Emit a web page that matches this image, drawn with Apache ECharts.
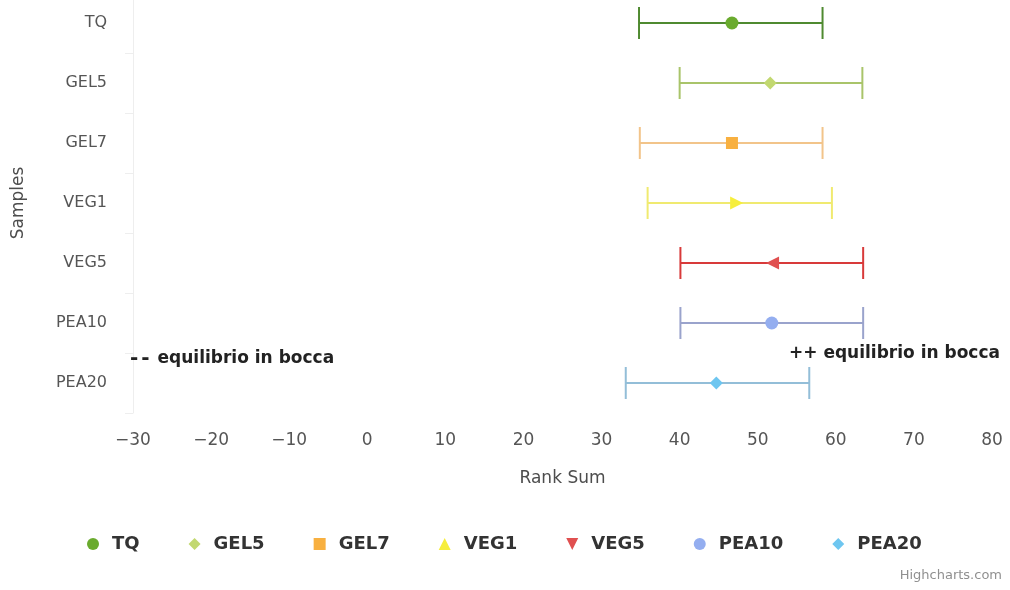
<!DOCTYPE html>
<html>
<head>
<meta charset="utf-8">
<script src="https://cdn.jsdelivr.net/npm/echarts@6/dist/echarts.min.js"></script>
<style>
html,body{margin:0;padding:0;background:#fff;}
#chart{width:1010px;height:590px;}
</style>
</head>
<body>
<div id="chart"></div>
<script>
const samples = ['TQ', 'GEL5', 'GEL7', 'VEG1', 'VEG5', 'PEA10', 'PEA20'];
const lowValues = [34.8, 40.0, 34.9, 35.9, 40.1, 40.1, 33.1];
const highValues = [58.3, 63.4, 58.3, 59.5, 63.5, 63.5, 56.6];
const meanValues = [46.7, 51.6, 46.7, 47.3, 51.9, 51.8, 44.7];
const xTicks = { min: -30, max: 80, interval: 10 };

const markerColors = ['#6aab2e', '#c2d870', '#f8b040', '#f6ee3c', '#e05050', '#94aef0', '#6ec6f0'];
const whiskerColors = ['#4f8a30', '#a9c46a', '#f2c48a', '#f0ea70', '#d83a3a', '#9aa3cc', '#93bed8'];
const symbols = ['circle', 'diamond', 'rect', 'triangle', 'triangle', 'circle', 'diamond'];
const rotations = [0, 0, 0, -90, 90, 0, 0];
const legendIcons = ['circle', 'diamond', 'rect', 'triangle', 'path://M0,0 L10,0 L5,10 Z', 'circle', 'diamond'];

const FONT = 'DejaVu Sans';
const series = [];
samples.forEach((name, i) => {
  series.push({
    name: name,
    type: 'custom',
    itemStyle: { color: markerColors[i] },
    encode: { x: [0, 1], y: 2 },
    data: [[lowValues[i], highValues[i], i]],
    renderItem: function (params, api) {
      const cat = api.value(2);
      const p1 = api.coord([api.value(0), cat]);
      const p2 = api.coord([api.value(1), cat]);
      const h = 16;
      const st = { stroke: whiskerColors[i], lineWidth: 2 };
      return {
        type: 'group',
        children: [
          { type: 'line', shape: { x1: p1[0], y1: p1[1], x2: p2[0], y2: p2[1] }, style: st },
          { type: 'line', shape: { x1: p1[0], y1: p1[1] - h, x2: p1[0], y2: p1[1] + h }, style: st },
          { type: 'line', shape: { x1: p2[0], y1: p2[1] - h, x2: p2[0], y2: p2[1] + h }, style: st }
        ]
      };
    },
    z: 2
  });
  series.push({
    name: name,
    type: 'scatter',
    symbol: symbols[i],
    symbolRotate: rotations[i],
    symbolSize: symbols[i] === 'rect' ? 12 : 13,
    itemStyle: { color: markerColors[i], opacity: 1 },
    data: [[meanValues[i], i]],
    z: 3
  });
});

const chart = echarts.init(document.getElementById('chart'), null, { renderer: 'canvas' });
chart.setOption({
  backgroundColor: '#ffffff',
  animation: false,
  textStyle: { fontFamily: FONT },
  grid: { left: 133, right: 18, top: -7, height: 420, outerBoundsMode: 'none', containLabel: false },
  xAxis: {
    type: 'value',
    min: xTicks.min,
    max: xTicks.max,
    interval: xTicks.interval,
    name: 'Rank Sum',
    nameLocation: 'middle',
    nameGap: 57,
    nameTextStyle: { fontSize: 17, color: '#4d4d4d', fontFamily: FONT },
    axisLine: { show: false },
    axisTick: { show: false },
    splitLine: { show: false },
    axisLabel: { fontSize: 17, color: '#555555', margin: 19, fontFamily: FONT,
      formatter: v => (v < 0 ? '\u2212' + Math.abs(v) : String(v)) }
  },
  yAxis: {
    type: 'category',
    inverse: true,
    data: samples,
    name: 'Samples',
    nameLocation: 'middle',
    nameGap: 106,
    nameRotate: 90,
    nameTextStyle: { fontSize: 17, color: '#4d4d4d', fontFamily: FONT },
    axisLine: { show: true, onZero: false, lineStyle: { color: '#eeeeee' } },
    axisTick: { show: true, length: 8, lineStyle: { color: '#eeeeee' } },
    axisLabel: { fontSize: 16, color: '#555555', margin: 26, fontFamily: FONT }
  },
  legend: {
    bottom: 32,
    left: 82,
    itemGap: 49,
    itemWidth: 12,
    itemHeight: 12,
    textStyle: { fontSize: 18, fontWeight: 'bold', color: '#333333', fontFamily: FONT, padding: [0, 0, 0, 8] },
    data: samples.map((s, i) => ({ name: s, icon: legendIcons[i], itemStyle: { color: markerColors[i] } }))
  },
  graphic: [
    { type: 'text', left: 130, top: 349, z: 100, zlevel: 0, style: {
        text: '{d|-}{d|-} equilibrio in bocca',
        fontSize: 17, fontWeight: 'bold', fill: '#222222', fontFamily: FONT,
        rich: { d: { fontSize: 20, fontWeight: 'bold', fill: '#222222', fontFamily: FONT, padding: [0, 2, 0, 1] } } } },
    { type: 'text', left: 789, top: 345, z: 100, style: { text: '++ equilibrio in bocca', fontSize: 17, fontWeight: 'bold', fill: '#222222', fontFamily: FONT } },
    { type: 'text', right: 8, top: 569, z: 100, style: { text: 'Highcharts.com', fontSize: 13, fill: '#909090', fontFamily: FONT } }
  ],
  series: series
});
</script>
</body>
</html>
